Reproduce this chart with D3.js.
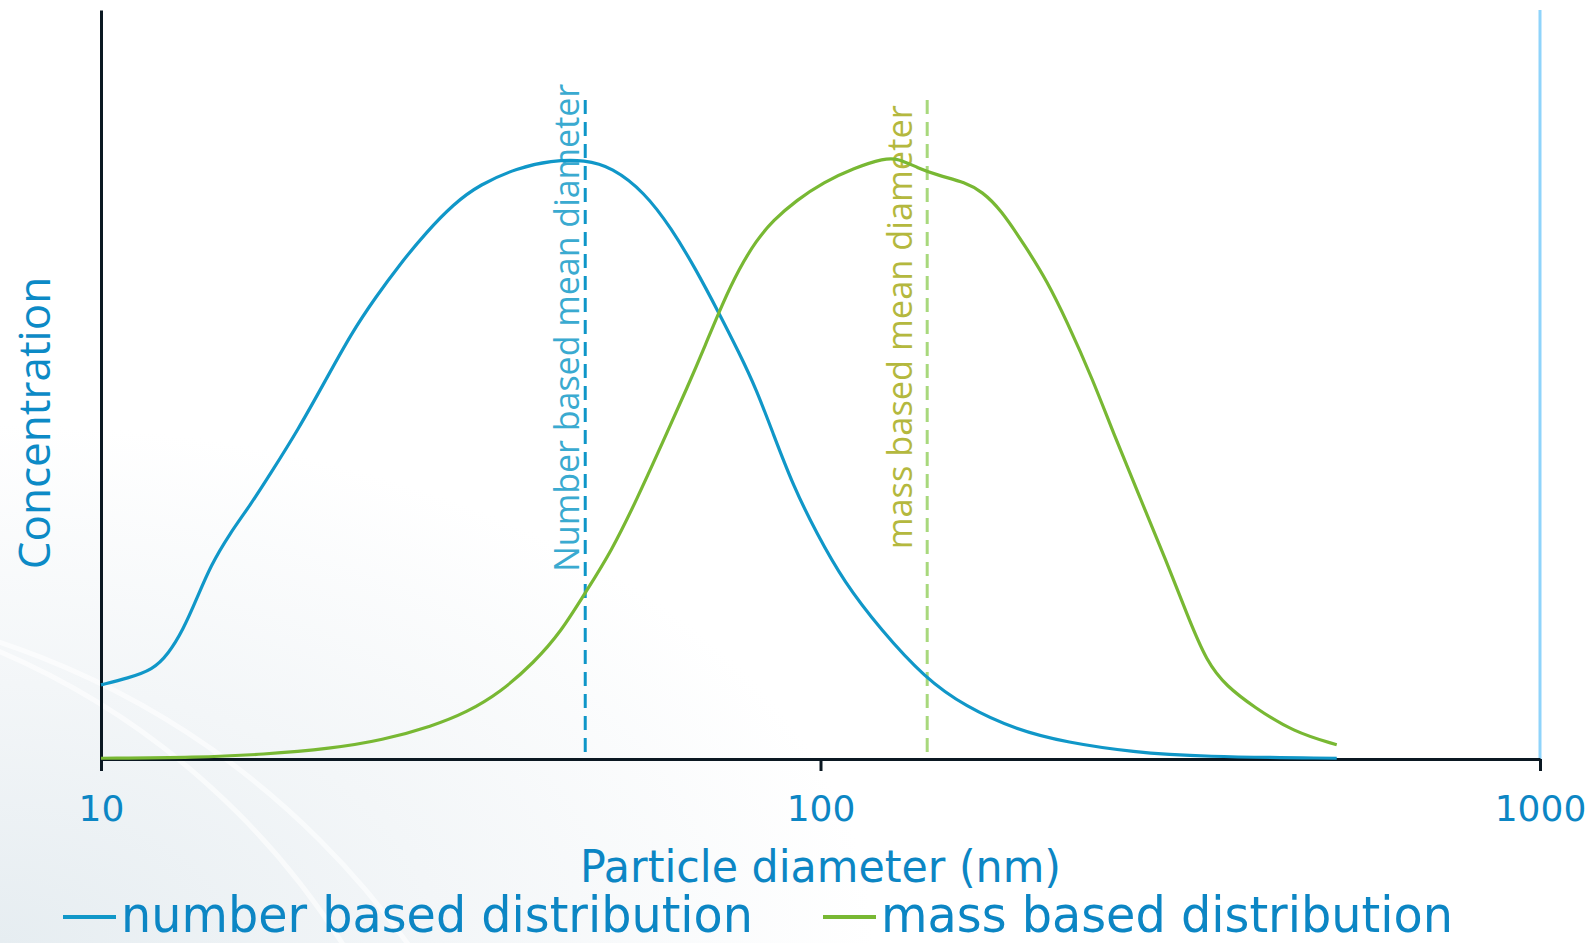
<!DOCTYPE html>
<html>
<head>
<meta charset="utf-8">
<script src="https://cdn.jsdelivr.net/npm/d3@7"></script>
<style>
  body { margin: 0; background: #fff; }
  svg { display: block; }
</style>
</head>
<body>
<svg id="chart"></svg>
<script>
// particle size distributions (x in nm, y in arbitrary units 0-100)
var numberDiam = [10, 10.9, 11.8, 12.4, 13.0, 13.6, 14.2, 15.1, 16.1, 17.2, 18.8, 20.5, 22.3, 24.1, 26.0, 28.3, 30.9, 33.6, 37.9, 42.2, 47.1, 51.3, 56.9, 62.1, 67.0, 72.2, 77.1, 81.4, 85.9, 91.6, 98.8, 107.7, 121.4, 139.7, 159.0, 187.0, 219.9, 272.2, 336.9, 521.8];
var numberConc = [9.9, 10.8, 11.9, 14.0, 17.2, 21.5, 25.8, 30.1, 33.8, 38.1, 44.0, 50.5, 56.9, 61.7, 66.0, 70.3, 74.1, 76.7, 78.9, 79.9, 80.0, 79.0, 75.7, 70.8, 65.5, 59.6, 54.2, 49.4, 43.5, 36.5, 30.1, 23.7, 17.2, 10.8, 7.0, 3.9, 2.2, 0.9, 0.3, 0.1];

var massDiam = [10, 13.6, 16.8, 20.9, 24.6, 28.9, 32.2, 35.9, 40.0, 43.6, 47.1, 51.2, 55.7, 60.1, 65.5, 69.2, 73.0, 77.1, 81.4, 85.9, 92.6, 101.0, 111.3, 122.7, 128.1, 136.6, 145.8, 159.0, 167.9, 177.6, 193.4, 206.2, 219.9, 239.4, 255.3, 278.0, 302.8, 322.8, 344.3, 367.0, 399.5, 454.0, 521.8];
var massConc = [0.1, 0.2, 0.6, 1.4, 2.5, 4.4, 6.2, 8.9, 12.9, 17.0, 22.2, 27.7, 34.9, 41.9, 49.9, 55.3, 60.7, 65.5, 69.2, 71.9, 74.6, 77.0, 78.9, 80.2, 80.2, 78.9, 77.9, 77.0, 75.7, 73.5, 68.2, 63.9, 58.5, 50.5, 43.5, 34.9, 26.3, 19.4, 12.9, 9.7, 7.0, 3.6, 1.9];

var xTicks = [10, 100, 1000];
var meanDiam = [47.1, 140.7];
var meanLabels = ["Number based mean diameter", "mass based mean diameter"];
var legendLabels = ["number based distribution", "mass based distribution"];

var W = 1590, H = 943;
var margin = {top: 10, right: 50, bottom: 184, left: 101},
    width = W - margin.left - margin.right,
    height = H - margin.top - margin.bottom;

var svg = d3.select("#chart").attr("width", W).attr("height", H);

// faint background decoration (bottom left)
var defs = svg.append("defs");
var grad = defs.append("radialGradient").attr("id", "bg")
  .attr("cx", "0%").attr("cy", "100%").attr("r", "55%");
grad.append("stop").attr("offset", "0%").attr("stop-color", "#e6edf1");
grad.append("stop").attr("offset", "50%").attr("stop-color", "#f3f6f8");
grad.append("stop").attr("offset", "100%").attr("stop-color", "#ffffff");
svg.append("rect").attr("width", W).attr("height", H).attr("fill", "url(#bg)");
[[-300, 1350, 760], [-260, 1420, 820]].forEach(function(c) {
  svg.append("circle").attr("cx", c[0]).attr("cy", c[1]).attr("r", c[2])
    .attr("fill", "none").attr("stroke", "#ffffff").attr("stroke-width", 5).attr("opacity", 0.6);
});

var g = svg.append("g")
  .attr("transform", "translate(" + margin.left + "," + margin.top + ")");

var x = d3.scaleLog().domain([10, 1000]).range([0, width]);
var y = d3.scaleLinear().domain([0, 100]).range([height, 0]);

// light blue right border
g.append("line")
  .attr("x1", x(1000)).attr("x2", x(1000))
  .attr("y1", 0).attr("y2", height)
  .attr("stroke", "#8fd4fb").attr("stroke-width", 3);

// X axis
var xAxis = g.append("g")
  .attr("transform", "translate(0," + height + ")")
  .call(d3.axisBottom(x).tickValues(xTicks).tickFormat(d3.format("d"))
    .tickSize(12).tickPadding(24).tickSizeOuter(0));
xAxis.select(".domain").attr("stroke", "#0b1822").attr("stroke-width", 3);
xAxis.selectAll(".tick line").attr("stroke", "#0b1822").attr("stroke-width", 3);
xAxis.selectAll(".tick text")
  .style("font-family", "'DejaVu Sans', Verdana, sans-serif")
  .style("font-size", "36px")
  .attr("fill", "#0c86c4");

// Y axis
var yAxis = g.append("g").call(d3.axisLeft(y).tickValues([]).tickSizeOuter(0));
yAxis.select(".domain").attr("stroke", "#0b1822").attr("stroke-width", 3);

// mean diameter markers
var meanColors = ["#0e96c8", "#a8d87c"];
var meanText = ["#3aaad0", "#b4b83e"];
meanDiam.forEach(function(d, i) {
  g.append("line")
    .attr("x1", x(d)).attr("x2", x(d))
    .attr("y1", y(88)).attr("y2", height)
    .attr("stroke", meanColors[i]).attr("stroke-width", 3)
    .attr("stroke-dasharray", "14,8");
});
g.append("text")
  .attr("transform", "translate(" + (x(meanDiam[0]) - 6) + "," + (y(25)) + ")rotate(-90)")
  .attr("text-anchor", "start")
  .style("font-family", "'Open Sans', sans-serif").style("font-size", "35px")
  .attr("textLength", 488).attr("lengthAdjust", "spacingAndGlyphs")
  .attr("fill", meanText[0])
  .text(meanLabels[0]);
g.append("text")
  .attr("transform", "translate(" + (x(meanDiam[1]) - 15) + "," + (y(28)) + ")rotate(-90)")
  .attr("text-anchor", "start")
  .style("font-family", "'Open Sans', sans-serif").style("font-size", "35px")
  .attr("textLength", 444).attr("lengthAdjust", "spacingAndGlyphs")
  .attr("fill", meanText[1])
  .text(meanLabels[1]);

// curves
var line = d3.line()
  .x(function(d) { return x(d[0]); })
  .y(function(d) { return y(d[1]); })
  .curve(d3.curveBasis);

g.append("path")
  .datum(d3.zip(numberDiam, numberConc))
  .attr("d", line)
  .attr("fill", "none").attr("stroke", "#1097c8").attr("stroke-width", 3.2);

g.append("path")
  .datum(d3.zip(massDiam, massConc))
  .attr("d", line)
  .attr("fill", "none").attr("stroke", "#78b833").attr("stroke-width", 3.2);

// axis titles
svg.append("text")
  .attr("x", margin.left + x(100)).attr("y", 882)
  .attr("text-anchor", "middle")
  .style("font-family", "'DejaVu Sans', Verdana, sans-serif").style("font-size", "44px")
  .attr("textLength", 481).attr("lengthAdjust", "spacingAndGlyphs")
  .attr("fill", "#0c86c4")
  .text("Particle diameter (nm)");

svg.append("text")
  .attr("transform", "translate(50,423)rotate(-90)")
  .attr("text-anchor", "middle")
  .style("font-family", "'Open Sans', sans-serif").style("font-size", "44px")
  .attr("fill", "#0c8ac6")
  .text("Concentration");

// legend
var legendX = [63, 823];
var legendColors = ["#1097c8", "#78b833"];
var legendLen = [632, 572];
legendLabels.forEach(function(t, i) {
  svg.append("line")
    .attr("x1", legendX[i]).attr("x2", legendX[i] + 53)
    .attr("y1", 917).attr("y2", 917)
    .attr("stroke", legendColors[i]).attr("stroke-width", 4);
  svg.append("text")
    .attr("x", legendX[i] + 58).attr("y", 932)
    .style("font-family", "'DejaVu Sans', Verdana, sans-serif").style("font-size", "50px")
    .attr("textLength", legendLen[i]).attr("lengthAdjust", "spacingAndGlyphs")
    .attr("fill", "#0c86c4")
    .text(t);
});
</script>
</body>
</html>
